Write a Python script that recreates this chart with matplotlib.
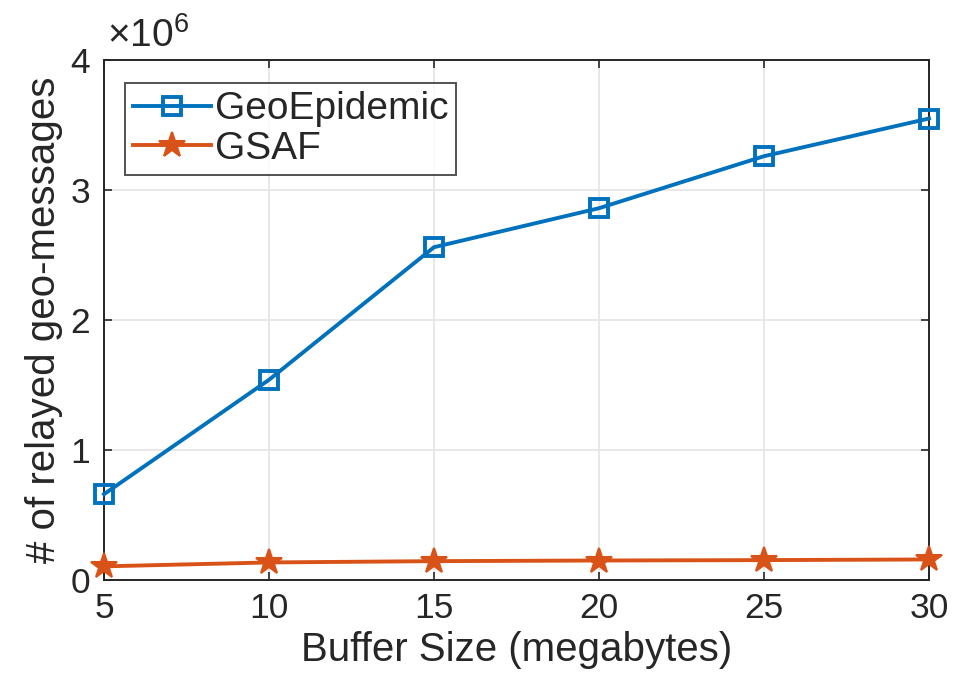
import matplotlib
matplotlib.use("Agg")
import matplotlib.pyplot as plt
from matplotlib.ticker import FuncFormatter

plt.rcParams['font.family'] = ['Liberation Sans', 'DejaVu Sans']
plt.rcParams['mathtext.fontset'] = 'custom'
plt.rcParams['mathtext.rm'] = 'Liberation Sans'

buffer_mb = [5, 10, 15, 20, 25, 30]
geo_epidemic = [0.66e6, 1.54e6, 2.56e6, 2.86e6, 3.26e6, 3.55e6]
gsaf = [0.105e6, 0.135e6, 0.145e6, 0.150e6, 0.153e6, 0.158e6]

x_ticks = [5, 10, 15, 20, 25, 30]
y_ticks = [0, 1e6, 2e6, 3e6, 4e6]

text_col = '#262626'
tick_fs = 25.5
label_fs = 29
legend_fs = 28

fig = plt.figure(figsize=(9.54, 6.77), dpi=100)
ax = fig.add_axes([104 / 954, 1 - 580 / 677, (929 - 104) / 954, (580 - 60) / 677])

ax.plot(buffer_mb, geo_epidemic, color='#0072BD', lw=2.8, marker='s', ms=13,
        mfc='none', mec='#0072BD', mew=2.8, label='GeoEpidemic', zorder=3, clip_on=False)
ax.plot(buffer_mb, gsaf, color='#D95319', lw=2.8, marker='*', ms=19,
        mfc='#D95319', mec='#D95319', mew=1.5, label='GSAF', zorder=3, clip_on=False)

ax.set_xlim(5, 30)
ax.set_ylim(0, 4e6)
ax.set_xticks(x_ticks)
ax.set_yticks(y_ticks)
ax.yaxis.set_major_formatter(FuncFormatter(lambda v, p: f"{v / 1e6:g}"))
ax.grid(True, color='#e6e6e6', lw=1.3)
ax.set_axisbelow(True)

for s in ax.spines.values():
    s.set_color(text_col)
    s.set_linewidth(1.4)
ax.tick_params(direction='in', length=6, width=1.2, colors=text_col,
               labelsize=tick_fs, top=True, right=True)
ax.tick_params(axis='x', pad=9)
ax.tick_params(axis='y', pad=10)

ax.set_xlabel('Buffer Size (megabytes)', fontsize=label_fs, color=text_col, labelpad=4)
ax.set_ylabel('# of relayed geo-messages', fontsize=label_fs, color=text_col, labelpad=5)
ax.text(0.004, 1.01, r'$\mathregular{\times10^{6}}$', transform=ax.transAxes,
        fontsize=28, color=text_col, ha='left', va='bottom')

leg = ax.legend(loc='upper left', bbox_to_anchor=(0.026, 0.955), fontsize=legend_fs,
                frameon=True, fancybox=False, edgecolor=text_col, handlelength=2.0,
                handletextpad=0.1, borderpad=0.2, labelspacing=0.1, borderaxespad=0)
leg.get_frame().set_linewidth(1.4)
for t in leg.get_texts():
    t.set_color(text_col)

fig.savefig('out.png', dpi=100)
